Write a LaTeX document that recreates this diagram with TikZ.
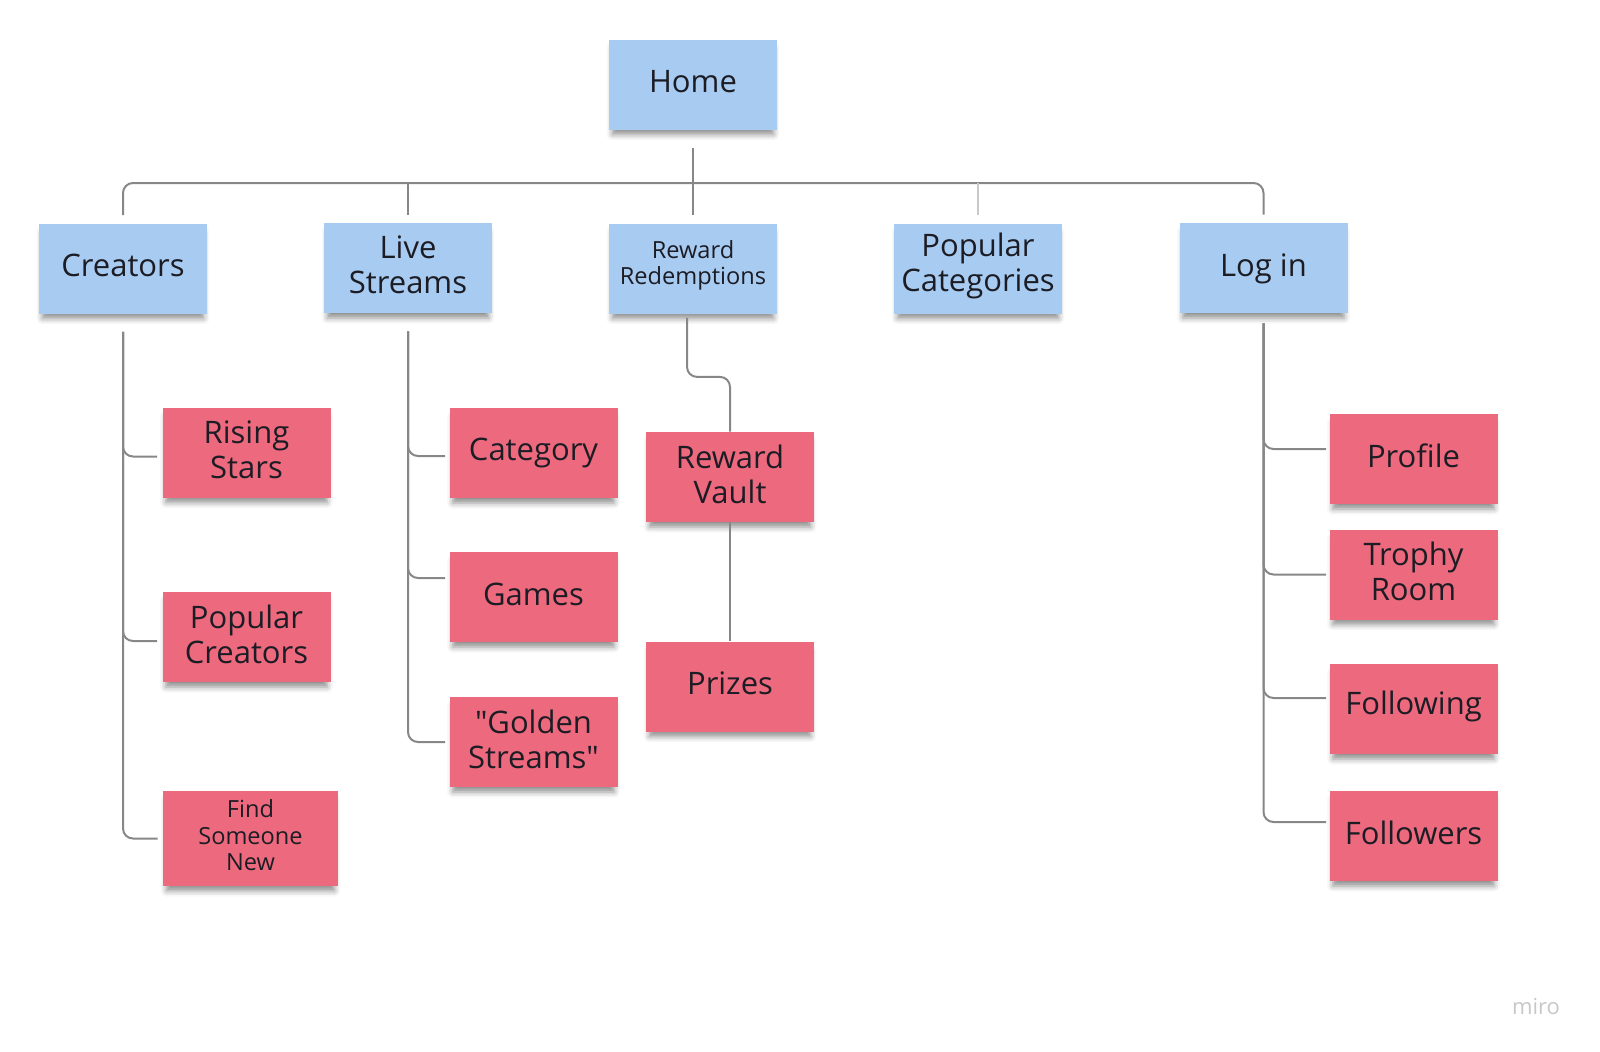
\documentclass[tikz,border=0pt]{standalone}
\usepackage{fontspec}
\setmainfont{Open Sans}[Ligatures=TeXOff]
\usetikzlibrary{shadows.blur}
\definecolor{bluebox}{RGB}{168,203,241}
\definecolor{redbox}{RGB}{237,106,126}
\definecolor{linegray}{RGB}{135,135,135}
\definecolor{txt}{RGB}{28,28,36}
\tikzset{
  card/.style={minimum width=84pt, minimum height=45pt, inner sep=0pt,
    blur shadow={shadow xshift=0pt, shadow yshift=-3.5pt, shadow scale=0.96, shadow blur radius=3pt, shadow opacity=45}},
  bluecard/.style={card, fill=bluebox},
  redcard/.style={card, fill=redbox},
  bigtext/.style={align=center, inner sep=0pt, text=txt, font=\fontsize{15.5}{17.5}\selectfont},
  smalltext/.style={align=center, inner sep=0pt, text=txt, font=\fontsize{11.8}{13.3}\selectfont},
  conn/.style={draw=linegray, line width=1pt, rounded corners=5pt},
}
% name, box style, position, text style, text
\newcommand\mycard[5]{%
  \node[#2] (#1) at (#3) {};
  \node[#4] (#1-t) at ([yshift=1.5pt]#1.center) {#5};
}
\begin{document}
\begin{tikzpicture}[x=0.5pt, y=-0.5pt]
\useasboundingbox (0,0) rectangle (1600,1051);
% level 0
\mycard{home}{bluecard}{693,84.5}{bigtext}{Home}
% level 1
\mycard{creators}{bluecard}{123,268.5}{bigtext}{Creators}
\mycard{live}{bluecard}{408,268}{bigtext}{Live\\Streams}
\mycard{rr}{bluecard}{693,268.5}{smalltext}{Reward\\Redemptions}
\mycard{popcat}{bluecard}{978,268.5}{bigtext}{Popular\\Categories}
\mycard{login}{bluecard}{1263.5,268}{bigtext, yshift=-1.8pt}{Log in}
% level 2
\mycard{rising}{redcard}{246.5,452.5}{bigtext}{Rising\\Stars}
\mycard{popcre}{redcard}{246.5,637}{bigtext}{Popular\\Creators}
\mycard{find}{redcard, minimum width=87.5pt, minimum height=47.5pt}{250.5,838.5}{smalltext}{Find\\Someone\\New}
\mycard{category}{redcard}{533.5,453}{bigtext, yshift=-1.5pt}{Category}
\mycard{games}{redcard}{533.5,597}{bigtext}{Games}
\mycard{golden}{redcard}{533.5,742}{bigtext}{"Golden\\Streams"}
\mycard{vault}{redcard}{730,477}{bigtext}{Reward\\Vault}
\mycard{prizes}{redcard}{730,686.5}{bigtext}{Prizes}
\mycard{profile}{redcard}{1413.5,459}{bigtext}{Profile}
\mycard{trophy}{redcard}{1413.5,574.5}{bigtext}{Trophy\\Room}
\mycard{following}{redcard}{1413.5,709}{bigtext}{Following}
\mycard{followers}{redcard}{1413.5,836}{bigtext}{Followers}
% bus
\coordinate (busL) at (123,183);
\coordinate (busR) at (1263.5,183);
\draw[conn] ([yshift=4pt]creators.north) -- (busL) -- (busR) -- ([yshift=4pt]login.north);
\draw[conn] ([yshift=-9pt]home.south) -- ([yshift=4pt]rr.north);
\draw[conn] (live.north |- busL) -- ([yshift=4pt]live.north);
\draw[conn, draw=linegray!45] (popcat.north |- busL) -- ([yshift=4pt]popcat.north);
% creators subtree
\draw[conn] ([yshift=-9pt]creators.south) |- ([xshift=-2.5pt,yshift=-2pt]rising.west);
\draw[conn] ([yshift=-9pt]creators.south) |- ([xshift=-2.5pt,yshift=-2pt]popcre.west);
\draw[conn] ([yshift=-9pt]creators.south) |- ([xshift=-2.5pt]find.west);
% live subtree
\draw[conn] ([yshift=-9pt]live.south) |- ([xshift=-2pt,yshift=-1.5pt]category.west);
\draw[conn] ([yshift=-9pt]live.south) |- ([xshift=-2pt,yshift=9.5pt]games.west);
\draw[conn] ([yshift=-9pt]live.south) |- ([xshift=-2pt]golden.west);
% reward subtree
\draw[conn] ([xshift=-3pt,yshift=-2pt]rr.south) -- ++(0,59) -| (vault.north);
\draw[conn] (vault.south) -- (prizes.north);
% login subtree
\draw[conn] ([yshift=-5pt]login.south) |- ([xshift=-1.5pt,yshift=5pt]profile.west);
\draw[conn] ([yshift=-5pt]login.south) |- ([xshift=-1.5pt]trophy.west);
\draw[conn] ([yshift=-5pt]login.south) |- ([xshift=-1.5pt,yshift=5.5pt]following.west);
\draw[conn] ([yshift=-5pt]login.south) |- ([xshift=-1.5pt,yshift=7pt]followers.west);
% watermark
\node[text=black!22, font=\fontsize{11}{13}\selectfont, inner sep=0pt] (miro) at (1536,1007) {miro};
\end{tikzpicture}
\end{document}
